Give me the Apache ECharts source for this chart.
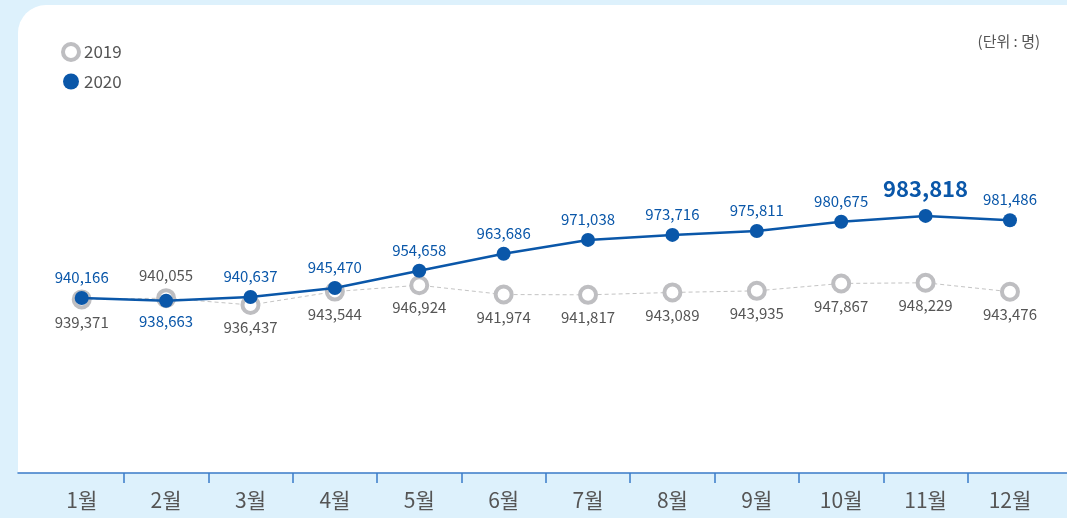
<!DOCTYPE html>
<html>
<head>
<meta charset="utf-8">
<script src="https://cdn.jsdelivr.net/npm/echarts@6/dist/echarts.min.js"></script>
<style>
html,body{margin:0;padding:0;background:#ddf1fc;}
#c{width:1067px;height:518px;}
</style>
</head>
<body>
<div id="c"></div>
<script>
const months = ['1월','2월','3월','4월','5월','6월','7월','8월','9월','10월','11월','12월'];
const values2019 = [939371, 940055, 936437, 943544, 946924, 941974, 941817, 943089, 943935, 947867, 948229, 943476];
const values2020 = [940166, 938663, 940637, 945470, 954658, 963686, 971038, 973716, 975811, 980675, 983818, 981486];
const seriesNames = ['2019', '2020'];
const unitText = '(단위 : 명)';

const BLUE = '#0a57a9';
const GRAY = '#bebec1';
const TEXT = '#555555';
const FONT = '"Noto Sans CJK KR", "Noto Sans", sans-serif';

const fmt = v => v.toLocaleString('en-US');

const data2019 = values2019.map((v, i) => {
  const item = { value: [i, v] };
  if (i === 1) item.label = { position: 'top' };
  return item;
});
const maxV = Math.max(...values2020);
const data2020 = values2020.map((v, i) => {
  const item = { value: [i, v] };
  if (i === 1) item.label = { position: 'bottom' };
  if (v === maxV) item.label = { fontSize: 22, fontWeight: 'bold', distance: 9 };
  return item;
});

const chart = echarts.init(document.getElementById('c'), null, { renderer: 'canvas' });
chart.setOption({
  backgroundColor: '#ddf1fc',
  animation: false,
  textStyle: { fontFamily: FONT },
  graphic: [
    {
      type: 'rect', z: -10, silent: true,
      shape: { x: 18, y: 5, width: 1090, height: 468, r: [28, 28, 0, 0] },
      style: { fill: '#ffffff' }
    },
    {
      type: 'text', right: 27, top: 34, silent: true,
      style: { text: unitText, fill: TEXT, fontSize: 15, fontFamily: FONT }
    }
  ],
  legend: {
    orient: 'vertical', left: 56, top: 37, itemGap: 11,
    itemWidth: 16, itemHeight: 16, icon: 'circle',
    textStyle: { color: TEXT, fontSize: 17, fontFamily: FONT },
    data: [
      { name: seriesNames[0], itemStyle: { color: '#ffffff', borderColor: GRAY, borderWidth: 4 } },
      { name: seriesNames[1], itemStyle: { color: BLUE, borderWidth: 0 } }
    ]
  },
  grid: { left: 18, right: 0, top: 100, bottom: 45 },
  xAxis: {
    type: 'value', min: -0.755, max: 11.676,
    splitLine: { show: false },
    axisLine: { show: true, onZero: false, lineStyle: { color: '#3a7bc8', width: 1.5 } },
    axisTick: {
      show: true, length: 10, inside: false,
      customValues: months.slice(1).map((m, i) => i + 0.5),
      lineStyle: { color: '#3a7bc8', width: 1.5 }
    },
    axisLabel: {
      customValues: months.map((m, i) => i),
      formatter: v => months[Math.round(v)] || '',
      color: TEXT, fontSize: 21, margin: 17, fontFamily: FONT
    }
  },
  yAxis: {
    type: 'value', min: 847000, max: 1045500,
    show: false, splitLine: { show: false }
  },
  series: [
    {
      name: seriesNames[0], type: 'line', data: data2019,
      symbol: 'circle', symbolSize: 16,
      itemStyle: { color: '#ffffff', borderColor: GRAY, borderWidth: 4 },
      lineStyle: { color: '#c4c4c4', width: 1, type: [4, 3] },
      label: {
        show: true, position: 'bottom', distance: 5,
        formatter: p => fmt(p.value[1]),
        color: TEXT, fontSize: 15, fontFamily: FONT
      },
      z: 2
    },
    {
      name: seriesNames[1], type: 'line', data: data2020,
      symbol: 'circle', symbolSize: 14,
      itemStyle: { color: BLUE, borderWidth: 0 },
      lineStyle: { color: BLUE, width: 2.5 },
      label: {
        show: true, position: 'top', distance: 6,
        formatter: p => fmt(p.value[1]),
        color: BLUE, fontSize: 15, fontFamily: FONT
      },
      z: 3
    }
  ]
});
</script>
</body>
</html>
